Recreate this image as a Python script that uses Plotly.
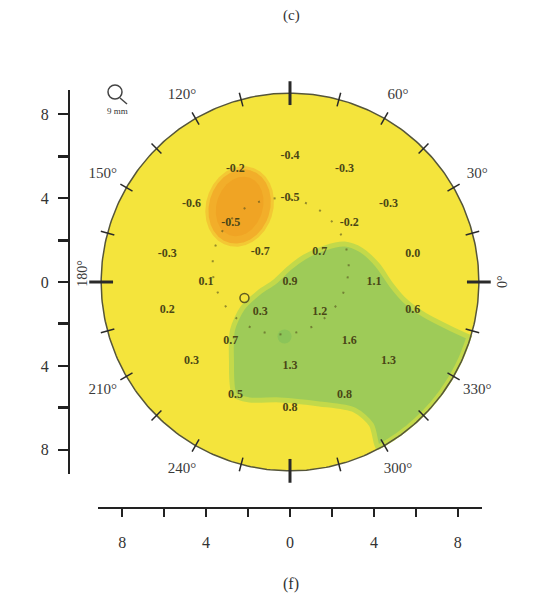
import numpy as np
import plotly.graph_objects as go

# ---------------- data ----------------
map_radius = 9.0                      # mm, radius of the measured zone
center_value = "0.9"
ring1_radius = 2.0
ring1_angles = [45, 135, 225, 315]
ring1_values = ["0.7", "-0.7", "0.3", "1.2"]
ring2_radius = 4.0
ring2_angles = [0, 45, 90, 135, 180, 225, 270, 315]
ring2_values = ["1.1", "-0.2", "-0.5", "-0.5", "0.1", "0.7", "1.3", "1.6"]
ring3_radius = 6.0
ring3_angles = [12.86, 38.57, 64.29, 90, 115.71, 141.43, 167.14,
                192.86, 218.57, 244.29, 270, 295.71, 321.43, 347.14]
ring3_values = ["0.0", "-0.3", "-0.3", "-0.4", "-0.2", "-0.6", "-0.3",
                "0.2", "0.3", "0.5", "0.8", "0.8", "1.3", "0.6"]

degree_angles = [30, 60, 90, 120, 150, 210, 240, 270, 300, 330]
degree_labels = ["30°", "60°", "90°", "120°", "150°", "210°", "240°", "270°", "300°", "330°"]
side_angles = [0, 180]
side_labels = ["0°", "180°"]
compass_tick_angles = list(range(0, 360, 15))
major_tick_angles = [0, 90, 180, 270]

axis_tickvals = [-8, -4, 0, 4, 8]
axis_ticktext = ["8", "4", "0", "4", "8"]
axis_minorvals = [-6, -2, 2, 6]

# steep (green) zone boundary, mm
green_x = [8.64, 7.6, 6.4, 5.45, 4.83, 4.17, 3.4, 2.6, 1.64, 0.69, -0.02, -0.74,
           -1.45, -2.26, -2.74, -2.79, -2.64]
green_y = [-2.67, -2.19, -1.57, -0.86, -0.14, 0.81, 1.52, 1.81, 1.62, 1.19, 0.67, 0.0,
           -0.48, -1.24, -2.29, -3.71, -5.38]
green_bottom_x = [-1.93, -0.5, 1.4, 3.07, 3.88]
green_bottom_y = [-5.62, -5.62, -5.81, -6.1, -6.81]
green_arc_deg = [-62, -17]

# flat (orange) zone
orange_center = (-2.4, 3.6)
orange_axes = (1.45, 1.8)
orange_tilt = -18

green_spot = (-0.26, -2.6)
pupil_center = (-0.45, 0.75)
pupil_radius = 3.25
apex_mark = (-2.17, -0.76)

# ---------------- figure geometry (target pixels) ----------------
OFF = 8                       # page body margin
W, H = 533 - 2 * OFF, 602 - 2 * OFF
PLOT_L, PLOT_T, PW, PH = 69, 90, 413, 418      # plot area in target px
ML, MT = PLOT_L - OFF, PLOT_T - OFF
MR, MB = W - ML - PW, H - MT - PH
RANGE = 9.15
xdom0 = 29 / PW
ydom0 = 34 / PH

def paper(px, py):
    return (px - PLOT_L) / PW, (PLOT_T + PH - py) / PH

def pol(r, a):
    a = np.radians(np.asarray(a, dtype=float))
    return r * np.cos(a), r * np.sin(a)

def d2paper(u, v):
    pxl = PLOT_L + xdom0 * PW + (u + RANGE) / (2 * RANGE) * (PW * (1 - xdom0))
    pyl = PLOT_T + (RANGE - v) / (2 * RANGE) * (PH * (1 - ydom0))
    return paper(pxl, pyl)

YELLOW = "#f4e43c"
GREEN = "#9ecb58"
TXT = "#4a4616"
SERIF = "Liberation Serif"

fig = go.Figure()
t = np.linspace(0, 2 * np.pi, 361)

# yellow disk
fig.add_trace(go.Scatter(x=map_radius * np.cos(t), y=map_radius * np.sin(t), mode="lines",
                         fill="toself", fillcolor=YELLOW, line=dict(width=0),
                         hoverinfo="skip", showlegend=False))

# orange zone (soft layers)
def ellipse(cx, cy, a, b, tilt):
    th = np.radians(tilt)
    ex, ey = a * np.cos(t), b * np.sin(t)
    return cx + ex * np.cos(th) - ey * np.sin(th), cy + ex * np.sin(th) + ey * np.cos(th)

for grow, col in [(0.15, "#f3c834"), (0.0, "#f2ae2a"), (-0.35, "#f0a424")]:
    ex, ey = ellipse(orange_center[0], orange_center[1], orange_axes[0] + grow,
                     orange_axes[1] + grow, orange_tilt)
    fig.add_trace(go.Scatter(x=ex, y=ey, mode="lines", fill="toself", fillcolor=col,
                             line=dict(width=0), hoverinfo="skip", showlegend=False))

# green zone
arc = np.radians(np.linspace(green_arc_deg[0], green_arc_deg[1], 40))
gx = list(green_x) + list(green_bottom_x) + list((map_radius - 0.08) * np.cos(arc))
gy = list(green_y) + list(green_bottom_y) + list((map_radius - 0.08) * np.sin(arc))
fig.add_trace(go.Scatter(x=gx, y=gy, mode="lines", fill="toself", fillcolor=GREEN,
                         line=dict(width=5, color="#c3d94a", shape="spline", smoothing=0.8),
                         hoverinfo="skip", showlegend=False))

# darker green spot
fig.add_trace(go.Scatter(x=[green_spot[0]], y=[green_spot[1]], mode="markers",
                         marker=dict(size=14, color="#86c25a", line=dict(width=0), opacity=0.8),
                         hoverinfo="skip", showlegend=False))

# dotted pupil outline
px_, py_ = pupil_center[0] + pupil_radius * np.cos(t), pupil_center[1] + pupil_radius * np.sin(t)
fig.add_trace(go.Scatter(x=px_, y=py_, mode="lines",
                         line=dict(color="rgba(85,80,30,0.6)", width=2, dash="2px,14px"),
                         hoverinfo="skip", showlegend=False))

# apex mark
fig.add_trace(go.Scatter(x=[apex_mark[0]], y=[apex_mark[1]], mode="markers",
                         marker=dict(symbol="circle-open", size=9, color="#5e5a22", line=dict(width=1.5)),
                         hoverinfo="skip", showlegend=False))

# outline circle
fig.add_trace(go.Scatter(x=map_radius * np.cos(t), y=map_radius * np.sin(t), mode="lines",
                         line=dict(color="#55553a", width=1.5), hoverinfo="skip", showlegend=False))

# compass ticks
minor = [a for a in compass_tick_angles if a not in major_tick_angles]
for angs, size, lw in [(minor, 10, 1.5), (major_tick_angles, 17, 3)]:
    tx, ty = pol(map_radius, angs)
    fig.add_trace(go.Scatter(x=tx, y=ty, mode="markers", cliponaxis=False,
                             marker=dict(symbol="line-ns", size=size, angle=[90 - a for a in angs],
                                         line=dict(color="#2a2a2a", width=lw)),
                             hoverinfo="skip", showlegend=False))

# values
vx, vy, vt = [0.0], [0.0], [center_value]
for r, angs, vals in [(ring1_radius, ring1_angles, ring1_values),
                      (ring2_radius, ring2_angles, ring2_values),
                      (ring3_radius, ring3_angles, ring3_values)]:
    x_, y_ = pol(r, angs)
    vx += list(x_); vy += list(y_); vt += vals
fig.add_trace(go.Scatter(x=vx, y=vy, text=vt, mode="text",
                         textfont=dict(family=SERIF, size=12, color=TXT, weight="bold"),
                         hoverinfo="skip", showlegend=False))

# degree labels
dx, dy = pol(10.3, degree_angles)
fig.add_trace(go.Scatter(x=dx, y=dy, text=degree_labels, mode="text", cliponaxis=False,
                         textfont=dict(family=SERIF, size=15, color="#3a3a3a"),
                         hoverinfo="skip", showlegend=False))

annotations = []
for a, lab, r in zip(side_angles, side_labels, [10.15, 9.9]):
    u, v = pol(r, a)
    x_p, y_p = d2paper(float(u), float(v) + (0.4 if a == 180 else 0.05))
    annotations.append(dict(x=x_p, y=y_p, xref="paper", yref="paper", text=lab, showarrow=False,
                            xanchor="center", yanchor="middle",
                            textangle=-90, font=dict(family=SERIF, size=14, color="#3a3a3a")))

for lab, (pxl, pyl), sz in [("(c)", (291, 15), 15), ("(f)", (291, 584), 16), ("9 mm", (117, 111), 9)]:
    x_p, y_p = paper(pxl, pyl)
    annotations.append(dict(x=x_p, y=y_p, xref="paper", yref="paper", text=lab, showarrow=False,
                            xanchor="center", yanchor="middle",
                            font=dict(family=SERIF, size=sz, color="#333333")))

shapes = []
c0 = paper(108, 85); c1 = paper(122, 99)
shapes.append(dict(type="circle", xref="paper", yref="paper", x0=c0[0], y0=c0[1], x1=c1[0], y1=c1[1],
                   line=dict(color="#444444", width=1.5)))
h0 = paper(120, 98); h1 = paper(127, 104)
shapes.append(dict(type="line", xref="paper", yref="paper", x0=h0[0], y0=h0[1], x1=h1[0], y1=h1[1],
                   line=dict(color="#444444", width=1.5)))

axis_common = dict(range=[-RANGE, RANGE], tickvals=axis_tickvals, ticktext=axis_ticktext,
                   showgrid=False, zeroline=False, showline=True, linecolor="#222222", linewidth=2,
                   ticks="outside", tickcolor="#222222",
                   tickfont=dict(family=SERIF, size=16, color="#333333"),
                   anchor="free", position=0, fixedrange=True)

fig.update_layout(
    width=W, height=H, autosize=False,
    margin=dict(l=ML, r=MR, t=MT, b=MB, pad=0),
    paper_bgcolor="white", plot_bgcolor="rgba(0,0,0,0)",
    xaxis=dict(domain=[xdom0, 1], ticklen=8, tickwidth=2, ticklabelstandoff=12,
               minor=dict(tickvals=axis_minorvals, ticks="outside", ticklen=8, tickwidth=2,
                          tickcolor="#222222"), **axis_common),
    yaxis=dict(domain=[ydom0, 1], ticklen=10, tickwidth=2, ticklabelstandoff=6,
               minor=dict(tickvals=axis_minorvals, ticks="outside", ticklen=10, tickwidth=3,
                          tickcolor="#222222"), **axis_common),
    annotations=annotations, shapes=shapes, showlegend=False,
)

fig.write_html("out.html")
